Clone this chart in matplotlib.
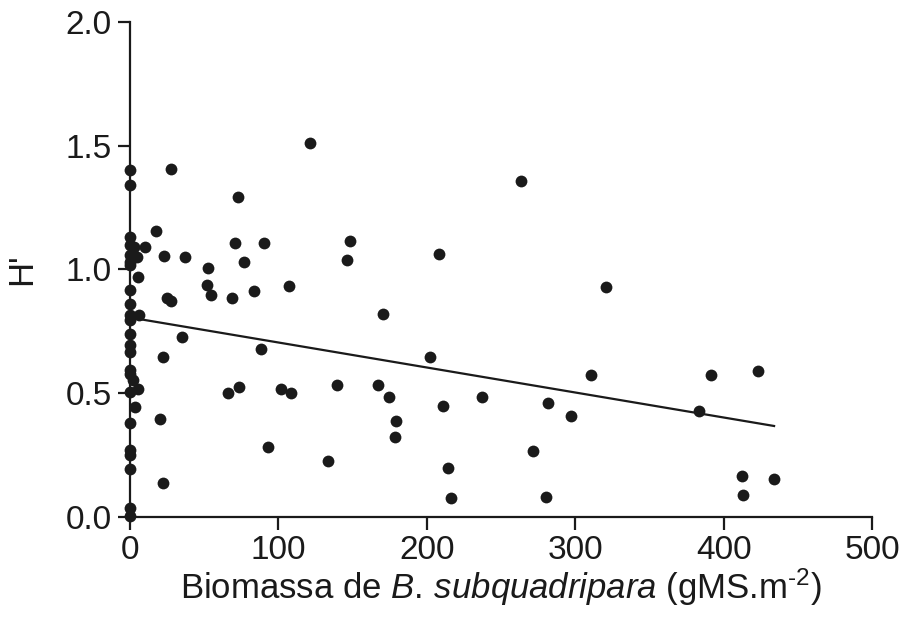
import numpy as np
import matplotlib
matplotlib.use("Agg")
from matplotlib import pyplot as plt

plt.rcParams["font.family"] = ["Liberation Sans", "DejaVu Sans"]
plt.rcParams["mathtext.fontset"] = "custom"
plt.rcParams["mathtext.rm"] = "Liberation Sans"
plt.rcParams["mathtext.it"] = "Liberation Sans:italic"

# biomass (gMS.m-2) and Shannon diversity H'
biomass = [
    0, 0, 0, 0, 0, 0, 0, 0, 0, 0, 0, 0, 0, 0, 0, 0, 0, 0, 0, 0, 0, 0, 0,
    2.5, 4.5, 5.6, 6.1, 2.2, 5.6, 3.4, 10.1,
    17.5, 27.6, 72.8, 23.1, 37.3, 70.5, 90.1, 52.6, 77.0, 52.1, 107.4,
    54.8, 83.3, 68.7, 24.7, 27.4, 35.0, 22.5, 20.4, 66.0, 73.7, 88.3,
    101.8, 108.5, 92.8, 22.5,
    121.1, 263.5, 148.2, 146.2, 208.0, 170.3, 201.9, 139.5, 166.9, 174.5,
    179.0, 178.8, 133.6, 210.9, 214.1, 216.5, 237.4, 281.9, 271.8, 280.1,
    297.0, 320.5, 310.6, 391.7, 423.0, 383.6, 412.2, 413.1, 434.0,
]
diversity = [
    1.402, 1.341, 1.133, 1.099, 1.059, 1.032, 1.018, 0.917, 0.861, 0.816,
    0.796, 0.739, 0.695, 0.668, 0.594, 0.578, 0.506, 0.379, 0.271, 0.251,
    0.193, 0.035, 0.005,
    1.092, 1.052, 0.971, 0.816, 0.554, 0.516, 0.443, 1.092,
    1.157, 1.405, 1.292, 1.056, 1.052, 1.106, 1.107, 1.007, 1.032, 0.939,
    0.932, 0.898, 0.915, 0.886, 0.886, 0.874, 0.727, 0.646, 0.395, 0.502,
    0.527, 0.679, 0.517, 0.501, 0.282, 0.136,
    1.510, 1.356, 1.114, 1.040, 1.061, 0.822, 0.645, 0.533, 0.533, 0.484,
    0.389, 0.325, 0.226, 0.450, 0.197, 0.078, 0.485, 0.462, 0.267, 0.082,
    0.408, 0.931, 0.574, 0.575, 0.589, 0.430, 0.166, 0.089, 0.152,
]

# linear regression
fit_intercept = 0.806
fit_slope = -0.00101

x_ticks = [0, 100, 200, 300, 400, 500]
y_ticks = [0.0, 0.5, 1.0, 1.5, 2.0]

fig = plt.figure(figsize=(9.06, 6.37), dpi=100)
ax = fig.add_axes([0.1435, 0.1884, 0.819, 0.7771])

ax.plot(biomass, diversity, "o", color="#1a1a1a", markersize=8.5,
        markeredgewidth=0, clip_on=False, zorder=3)

fit_x = np.array([min(biomass), max(biomass)])
ax.plot(fit_x, fit_intercept + fit_slope * fit_x, color="#1a1a1a", lw=1.6)

ax.set_xlim(0, 500)
ax.set_ylim(0, 2.0)
ax.set_xticks(x_ticks)
ax.set_yticks(y_ticks)
ax.set_yticklabels([f"{v:.1f}" for v in y_ticks])

for side in ("top", "right"):
    ax.spines[side].set_visible(False)
for side in ("left", "bottom"):
    ax.spines[side].set_linewidth(1.6)
    ax.spines[side].set_color("#1a1a1a")

ax.tick_params(length=9, width=1.6, labelsize=24, color="#1a1a1a",
               labelcolor="#1a1a1a", pad=4)

ax.set_xlabel(r"Biomassa de $\it{B.\,subquadripara}$ (gMS.m$^{\text{-2}}$)",
              fontsize=25, color="#1a1a1a", labelpad=0)
ax.set_ylabel("H'", fontsize=25, color="#1a1a1a", labelpad=20)

fig.savefig("out.png", dpi=100)
